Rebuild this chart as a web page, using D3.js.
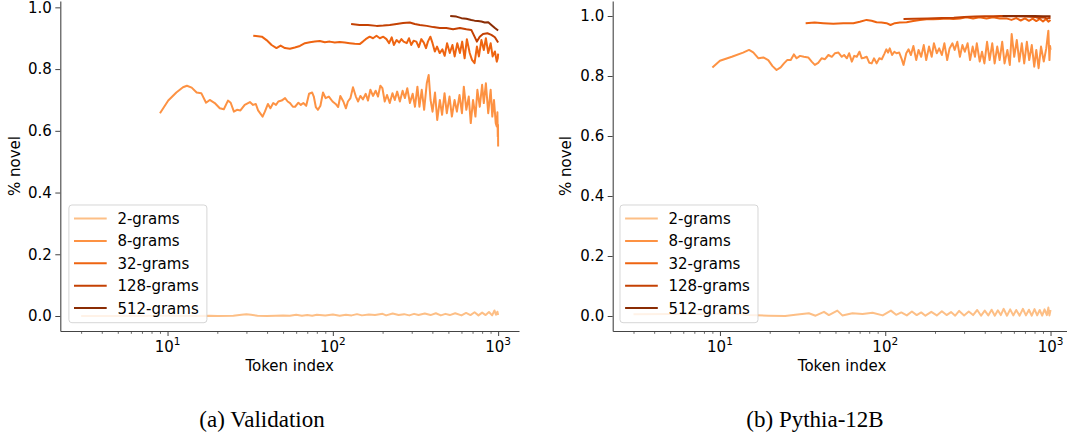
<!DOCTYPE html>
<html><head><meta charset="utf-8">
<script src="https://cdn.jsdelivr.net/npm/d3@7"></script>
<style>
body{margin:0;background:#fff}
svg{display:block}
text{font-family:"DejaVu Sans",sans-serif;fill:#000}
</style>
</head><body>
<svg id="chart" width="1067" height="438"></svg>
<script>
// ---------- data (token index, fraction novel) ----------
const seriesLabels = ["2-grams","8-grams","32-grams","128-grams","512-grams"];
const seriesColors = ["#fdbf86","#fd9243","#ee6411","#c44103","#8a2c04"];
const xTickValues = [10,100,1000];
const yTickValues = [0,0.2,0.4,0.6,0.8,1.0];
const captions = ["(a) Validation","(b) Pythia-12B"];

const val2 = [[3,0.0],[4,0.0],[5,0.0],[6,0.0],[7,0.0],[8,0.001],[10,0.001],[12,0.0],[15,0.0],[18,0.001],[20,0.0],[25,0.001],[28,0.004],[30,0.006],[32,0.004],[35,0.001],[40,0.0],[45,0.001],[50,0.002],[55,0.001],[60,0.004],[65,0.001],[70,0.003],[75,0.001],[80,0.004],[90,0.002],[100,0.005],[110,0.001],[120,0.004],[130,0.002],[140,0.006],[150,0.002],[165,0.005],[180,0.003],[200,0.007],[210,0.002],[230,0.008],[250,0.003],[270,0.006],[290,0.002],[310,0.007],[330,0.003],[360,0.008],[390,0.003],[420,0.009],[450,0.002],[480,0.007],[510,0.003],[550,0.009],[600,0.002],[640,0.010],[680,0.003],[720,0.012],[760,0.002],[800,0.011],[840,0.003],[880,0.013],[920,0.002],[950,0.018],[970,0.004],[990,0.014],[1000,0.003]];

const val8 = [[9,0.657],[10.1,0.698],[11.3,0.724],[12.4,0.741],[13.1,0.746],[14,0.740],[15,0.724],[16,0.722],[17.1,0.691],[18,0.700],[19.3,0.690],[20.7,0.673],[21.9,0.670],[23.2,0.698],[24.1,0.691],[25.2,0.662],[26.3,0.668],[27.6,0.666],[29.3,0.684],[31.5,0.693],[32.9,0.684],[34.2,0.687],[35.3,0.666],[37.6,0.646],[38.8,0.662],[40.5,0.687],[41.9,0.673],[43.6,0.690],[45.3,0.684],[46.8,0.695],[49,0.698],[51.4,0.706],[53.3,0.695],[55.1,0.690],[57.3,0.678],[59.1,0.678],[61.9,0.691],[64,0.684],[66.3,0.690],[69,0.681],[71.8,0.720],[75,0.724],[76.7,0.711],[78.9,0.677],[81.3,0.668],[84.1,0.681],[87.2,0.724],[90.4,0.706],[94.6,0.711],[99.6,0.695],[104,0.687],[107.7,0.677],[111,0.713],[115.8,0.695],[120,0.673],[123.3,0.695],[127.8,0.706],[132.4,0.741],[137.8,0.711],[142.2,0.695],[146.8,0.713],[152.1,0.702],[158.1,0.720],[163.2,0.698],[168.7,0.733],[175,0.713],[181.5,0.730],[187.6,0.711],[193.8,0.746],[199.5,0.738],[206,0.695],[212.7,0.716],[221,0.690],[229.4,0.722],[237,0.700],[245,0.727],[254.4,0.695],[264.3,0.730],[273,0.706],[282,0.738],[292.6,0.690],[304,0.720],[314,0.678],[324.8,0.743],[334,0.678],[345,0.733],[356.7,0.668],[370,0.754],[380,0.781],[390,0.700],[401,0.662],[415,0.724],[428,0.635],[444,0.700],[458,0.652],[474,0.722],[489,0.657],[508,0.711],[525,0.646],[545,0.700],[563,0.662],[584,0.716],[604,0.657],[620,0.743],[642,0.668],[664,0.711],[683,0.625],[705,0.700],[729,0.646],[749,0.733],[774,0.678],[800,0.749],[819,0.690],[843,0.754],[871,0.657],[901,0.733],[922,0.646],[944,0.700],[967,0.625],[981,0.614],[990,0.660],[995,0.581],[998,0.620],[1000,0.549]];

const val32 = [[33,0.908],[37.2,0.905],[39.7,0.894],[42.6,0.878],[45.6,0.868],[48.3,0.876],[51.3,0.868],[55,0.866],[58.9,0.870],[63.2,0.875],[67.8,0.884],[72.6,0.887],[77.8,0.889],[83.4,0.891],[89.4,0.887],[95.8,0.889],[102.7,0.886],[110,0.888],[118,0.886],[126.5,0.884],[135.6,0.882],[145.3,0.881],[152,0.889],[158,0.897],[167,0.905],[175,0.900],[183.7,0.908],[192.5,0.900],[202,0.905],[211,0.897],[219,0.884],[227,0.903],[234,0.878],[243,0.894],[252,0.886],[260,0.897],[268,0.889],[280,0.884],[289,0.900],[298,0.878],[308,0.892],[320,0.889],[331,0.871],[343,0.897],[355,0.886],[366,0.868],[376,0.889],[389,0.905],[401,0.884],[414,0.857],[427,0.873],[443,0.852],[460,0.864],[475,0.843],[491,0.884],[510,0.852],[529,0.878],[546,0.841],[566,0.884],[587,0.852],[606,0.889],[627,0.835],[647,0.897],[673,0.852],[695,0.830],[720,0.819],[744,0.873],[765,0.841],[792,0.894],[819,0.862],[843,0.900],[871,0.852],[901,0.884],[926,0.841],[956,0.857],[981,0.824],[995,0.835],[1000,0.850]];

const val128 = [[129,0.946],[145,0.943],[163,0.943],[184,0.940],[202,0.941],[221,0.943],[243,0.946],[266,0.949],[292,0.951],[313,0.946],[336,0.943],[370,0.940],[405,0.936],[444,0.933],[486,0.933],[534,0.929],[587,0.933],[642,0.929],[688,0.927],[720,0.905],[744,0.889],[774,0.905],[810,0.914],[861,0.916],[910,0.911],[956,0.903],[1000,0.886]];

const val512 = [[513,0.972],[559,0.970],[600,0.965],[642,0.963],[688,0.959],[720,0.957],[755,0.956],[792,0.954],[830,0.951],[871,0.952],[910,0.943],[956,0.933],[1000,0.925]];

const pyth2 = [[3,0.006],[5,0.007],[8.5,0.007],[11.2,0.009],[14.8,0.003],[19.7,0.001],[24.8,0.0],[28.6,0.004],[34.5,0.009],[37.9,0.001],[42.6,0.014],[45.6,0.003],[51.3,0.018],[55,0.002],[63.3,0.009],[72.9,0.007],[83.8,0.011],[96.5,0.002],[108.2,0.018],[116.4,0.004],[125,0.012],[135,0.002],[145,0.015],[155,0.003],[165,0.012],[175,0.001],[190,0.014],[205,0.002],[220,0.016],[235,0.003],[250,0.013],[265,0.001],[280,0.017],[300,0.002],[320,0.015],[340,0.003],[360,0.020],[380,0.001],[400,0.018],[420,0.002],[440,0.021],[460,0.001],[480,0.019],[500,0.003],[520,0.024],[545,0.001],[570,0.022],[595,0.002],[620,0.020],[650,0.001],[680,0.024],[710,0.002],[740,0.021],[770,0.001],[800,0.023],[830,0.002],[860,0.020],[890,0.001],[920,0.022],[950,0.003],[970,0.028],[985,0.002],[1000,0.020]];

const pyth8 = [[9,0.828],[10,0.851],[11.8,0.864],[13.8,0.878],[15,0.887],[15.9,0.879],[17.1,0.859],[18.3,0.862],[19.6,0.853],[20.8,0.833],[22,0.820],[23.3,0.829],[24.4,0.842],[25.5,0.853],[26.8,0.853],[28,0.872],[29.1,0.859],[30.5,0.867],[32.2,0.864],[34.2,0.862],[35.9,0.848],[37.5,0.837],[39.3,0.844],[41.2,0.859],[43.2,0.856],[45.3,0.870],[47.5,0.864],[49.7,0.876],[52.1,0.878],[54.6,0.864],[56.4,0.870],[58.6,0.859],[60.5,0.876],[62.8,0.848],[64.9,0.867],[67.3,0.864],[69.8,0.881],[72.1,0.859],[74.5,0.861],[77.3,0.864],[80.1,0.844],[82.8,0.842],[85.5,0.859],[88.7,0.842],[92.1,0.859],[95.3,0.856],[98.6,0.873],[101.5,0.889],[104,0.878],[106.5,0.892],[110,0.870],[113.5,0.881],[117,0.876],[121.5,0.878],[125.3,0.859],[129,0.837],[134,0.876],[138.4,0.889],[143,0.870],[148,0.900],[154,0.853],[159,0.887],[165,0.864],[171,0.903],[177,0.853],[184,0.898],[191,0.864],[197,0.909],[205,0.876],[212,0.892],[220,0.870],[228,0.909],[237,0.853],[245,0.892],[255,0.909],[263,0.887],[273,0.914],[283,0.864],[293,0.903],[303,0.881],[315,0.909],[326,0.853],[338,0.898],[349,0.864],[358,0.909],[373,0.848],[385,0.881],[398,0.842],[413,0.914],[428,0.853],[444,0.909],[459,0.842],[476,0.898],[492,0.853],[510,0.914],[527,0.842],[548,0.887],[567,0.837],[582,0.940],[603,0.864],[625,0.920],[647,0.848],[670,0.909],[693,0.842],[719,0.914],[743,0.853],[770,0.903],[797,0.831],[820,0.887],[847,0.826],[876,0.898],[910,0.848],[942,0.892],[970,0.951],[985,0.853],[994,0.900],[1000,0.887]];

const pyth32 = [[33,0.976],[37.4,0.978],[42.2,0.976],[48.5,0.974],[55.7,0.976],[64.1,0.976],[70.2,0.981],[77.1,0.987],[82.7,0.984],[88.6,0.979],[94.9,0.978],[101.8,0.976],[107.6,0.970],[114.3,0.976],[122.5,0.978],[134.7,0.979],[147.6,0.983],[162,0.987],[178,0.989],[195,0.989],[214,0.990],[235,0.992],[258,0.990],[283,0.992],[310,0.996],[340,0.992],[372,0.996],[410,0.992],[449,0.996],[492,0.992],[540,0.992],[580,0.987],[620,0.993],[660,0.985],[700,0.992],[740,0.984],[780,0.991],[820,0.983],[860,0.990],[900,0.982],[940,0.990],[970,0.981],[1000,0.987]];

const pyth128 = [[129,0.990],[150,0.991],[180,0.992],[220,0.993],[260,0.994],[300,0.997],[350,0.998],[400,0.999],[450,0.999],[500,1.0],[600,0.999],[700,0.998],[800,0.997],[850,0.993],[900,0.996],[950,0.992],[1000,0.994]];

const pyth512 = [[513,1.0],[600,1.0],[700,1.0],[800,1.0],[900,0.999],[1000,0.999]];

// ---------- layout ----------
const panels = [
  {series:[val2,val8,val32,val128,val512], xRange:[60.3,519], yDomain:[-0.0486,1.0206], caption:captions[0], capX:262, ylabX:15.5, legX:68.9},
  {series:[pyth2,pyth8,pyth32,pyth128,pyth512], xRange:[612.7,1071.4], yDomain:[-0.05,1.05], caption:captions[1], capX:815, ylabX:567, legX:620}
];
const yRange = [331, 1];
const xDomain = [Math.pow(10,0.3512), Math.pow(10,3.1262)];
const svg = d3.select("#chart");
const axisColor = "#444";
const fs = 15;

panels.forEach(p => {
  const x = d3.scaleLog().domain(xDomain).range(p.xRange);
  const y = d3.scaleLinear().domain(p.yDomain).range(yRange);
  const g = svg.append("g");

  // lines
  const line = d3.line().x(d => x(d[0])).y(d => y(d[1]));
  p.series.forEach((s, i) => {
    g.append("path").datum(s).attr("d", line)
      .attr("fill","none").attr("stroke", seriesColors[i])
      .attr("stroke-width", 2).attr("stroke-linejoin","round");
  });

  // y axis
  const ya = g.append("g").attr("transform", `translate(${p.xRange[0]},0)`)
    .call(d3.axisLeft(y).tickValues(yTickValues).tickFormat(d3.format(".1f")).tickSize(5).tickPadding(3.5).tickSizeOuter(0));
  ya.select(".domain").attr("stroke", axisColor).attr("stroke-width",1.1);
  ya.selectAll(".tick line").attr("stroke", axisColor).attr("stroke-width",1);
  ya.selectAll("text").style("font-size", fs+"px").attr("fill","#000");

  // x axis (major)
  const xa = g.append("g").attr("transform", `translate(0,${yRange[0]})`)
    .call(d3.axisBottom(x).tickValues(xTickValues).tickFormat(() => "").tickSize(5).tickSizeOuter(0));
  xa.select(".domain").attr("stroke", axisColor).attr("stroke-width",1.1);
  xa.selectAll(".tick line").attr("stroke", axisColor).attr("stroke-width",1);
  // minor ticks
  const minors = [];
  [1,10,100].forEach(b => { for (let k=2;k<=9;k++){ const v=b*k; if (v>=xDomain[0] && v<=xDomain[1]) minors.push(v);} });
  const xm = g.append("g").attr("transform", `translate(0,${yRange[0]})`)
    .call(d3.axisBottom(x).tickValues(minors).tickFormat(() => "").tickSize(2.8).tickSizeOuter(0));
  xm.select(".domain").remove();
  xm.selectAll(".tick line").attr("stroke", axisColor).attr("stroke-width",0.8);

  // x tick labels 10^k
  xTickValues.forEach(v => {
    const t = g.append("text").attr("x", x(v)).attr("y", 352)
      .attr("text-anchor","middle").style("font-size", fs+"px");
    t.append("tspan").text("10");
    t.append("tspan").attr("dy", -7.4).style("font-size", (fs*0.7)+"px").text(String(Math.round(Math.log10(v))));
  });

  // axis labels
  g.append("text").attr("x", (p.xRange[0]+p.xRange[1])/2).attr("y", 371)
    .attr("text-anchor","middle").style("font-size", fs+"px").text("Token index");
  g.append("text").attr("transform", `translate(${p.ylabX + 4},166) rotate(-90)`)
    .attr("text-anchor","middle").style("font-size", fs+"px").text("% novel");

  // legend
  const lg = g.append("g");
  lg.append("rect").attr("x", p.legX).attr("y", 205).attr("width", 138).attr("height", 117.7)
    .attr("rx", 3).attr("fill","#fff").attr("fill-opacity",0.8)
    .attr("stroke","#cccccc").attr("stroke-opacity",0.8).attr("stroke-width",1);
  seriesLabels.forEach((lab, i) => {
    const ry = 218.5 + i*22.4;
    lg.append("line").attr("x1", p.legX+5.1).attr("x2", p.legX+37.8).attr("y1", ry).attr("y2", ry)
      .attr("stroke", seriesColors[i]).attr("stroke-width", 2);
    lg.append("text").attr("x", p.legX+48.5).attr("y", ry).attr("dy","0.36em")
      .style("font-size", fs+"px").text(lab);
  });

  // caption
  svg.append("text").attr("x", p.capX).attr("y", 427).attr("text-anchor","middle")
    .style("font-family", '"Liberation Serif","Times New Roman",serif').style("font-size","23px")
    .text(p.caption);
});
</script>
</body></html>
